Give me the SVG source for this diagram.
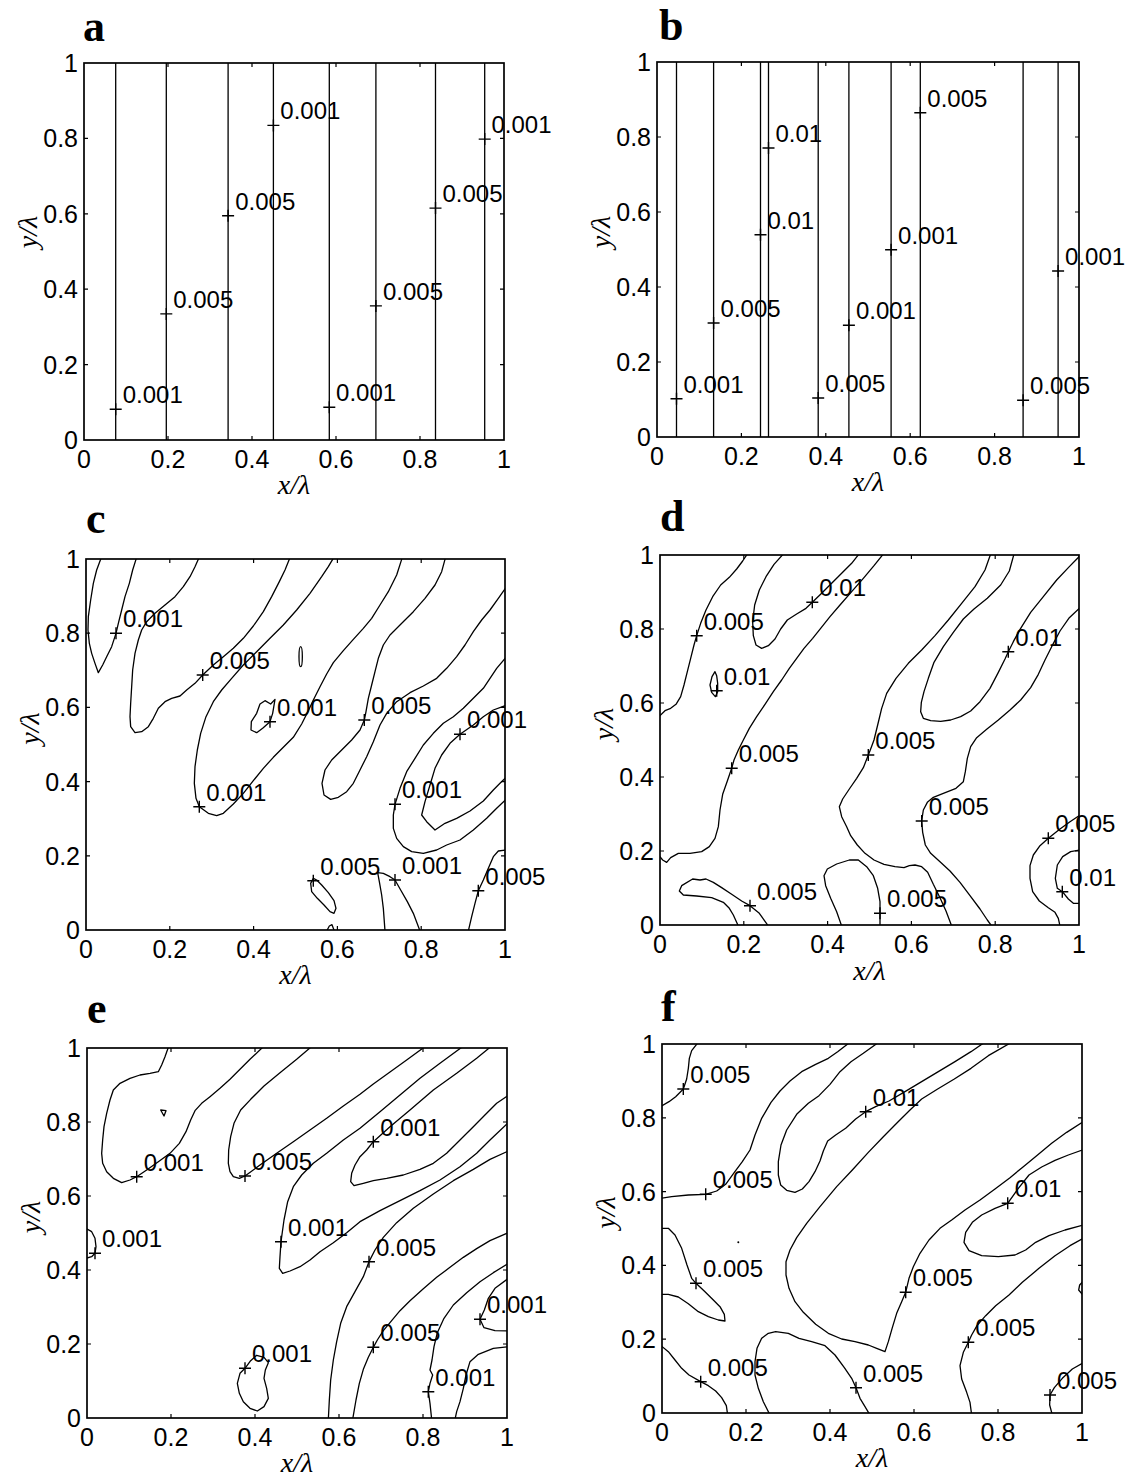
<svg xmlns="http://www.w3.org/2000/svg" xmlns:xlink="http://www.w3.org/1999/xlink" width="1128" height="1479" viewBox="0 0 1128 1479">
<style>
.fr{fill:none;stroke:#000;stroke-width:1.7}
.tk{fill:none;stroke:#000;stroke-width:1.2}
.ln{fill:none;stroke:#000;stroke-width:1.3}
.ct{fill:none;stroke:#000;stroke-width:3.9;stroke-linejoin:round;stroke-linecap:round}
.mk{fill:none;stroke:#000;stroke-width:1.4}
.tx{font-family:'Liberation Sans',Arial,sans-serif;font-size:25px;fill:#000;text-anchor:middle}
.ty{font-family:'Liberation Sans',Arial,sans-serif;font-size:25px;fill:#000;text-anchor:end}
.cl{font-family:'Liberation Sans',Arial,sans-serif;font-size:24px;fill:#000}
.pl{font-family:'Liberation Serif','Times New Roman',serif;font-weight:bold;font-size:44px;fill:#000}
.al{font-family:'Liberation Serif','Times New Roman',serif;font-style:italic;font-size:28px;fill:#000;text-anchor:middle}
</style>
<defs>
<path id="pl" d="M-6,0H6M0,-6V6"/>
<clipPath id="cpc"><rect x="86" y="559" width="419" height="371"/></clipPath>
<clipPath id="cpd"><rect x="660" y="555" width="419" height="370"/></clipPath>
<clipPath id="cpe"><rect x="87" y="1048" width="420" height="370"/></clipPath>
<clipPath id="cpf"><rect x="662" y="1044" width="420" height="369"/></clipPath>
</defs>
<rect width="1128" height="1479" fill="#fff"/>

<!-- Panel a -->
<g id="panel-a">
<text class="pl" x="83" y="41">a</text>
<g class="ln">
<path d="M115.7,63V440M166.3,63V440M228.1,63V440M273.4,63V440M329.3,63V440M375.9,63V440M435.5,63V440M484.7,63V440"/>
</g>
<rect class="fr" x="84" y="63" width="420" height="377"/>
<path class="tk" d="M168,440v-4M252,440v-4M336,440v-4M420,440v-4M168,63v4M252,63v4M336,63v4M420,63v4M84,364.6h4M84,289.2h4M84,213.8h4M84,138.4h4M504,364.6h-4M504,289.2h-4M504,213.8h-4M504,138.4h-4"/>
<g class="mk">
<use xlink:href="#pl" x="115.7" y="409.3"/><use xlink:href="#pl" x="166.3" y="313.9"/><use xlink:href="#pl" x="228.1" y="215.8"/><use xlink:href="#pl" x="273.4" y="125.4"/><use xlink:href="#pl" x="329.3" y="407.3"/><use xlink:href="#pl" x="375.9" y="305.9"/><use xlink:href="#pl" x="435.5" y="208.1"/><use xlink:href="#pl" x="484.7" y="139.1"/>
</g>
<g class="cl">
<text x="122.7" y="403.3">0.001</text><text x="173.2" y="307.9">0.005</text><text x="235.2" y="209.8">0.005</text><text x="280.3" y="119.4">0.001</text><text x="336.1" y="401.3">0.001</text><text x="383" y="299.9">0.005</text><text x="442.5" y="202.1">0.005</text><text x="491.5" y="133.1">0.001</text>
</g>
<g class="ty"><text x="78" y="449">0</text><text x="78" y="373.6">0.2</text><text x="78" y="298.2">0.4</text><text x="78" y="222.8">0.6</text><text x="78" y="147.4">0.8</text><text x="78" y="72">1</text></g>
<g class="tx"><text x="84" y="468">0</text><text x="168" y="468">0.2</text><text x="252" y="468">0.4</text><text x="336" y="468">0.6</text><text x="420" y="468">0.8</text><text x="504" y="468">1</text></g>
<text class="al" x="294" y="494">x/λ</text>
<text class="al" x="37" y="232" transform="rotate(-90 37 232)">y/λ</text>
</g>

<!-- Panel b -->
<g id="panel-b">
<text class="pl" x="659" y="40">b</text>
<g class="ln">
<path d="M676.5,62V437M713.6,62V437M760.5,62V437M768.5,62V437M818.2,62V437M848.9,62V437M891.1,62V437M920.3,62V437M1023.1,62V437M1058.1,62V437"/>
</g>
<rect class="fr" x="657" y="62" width="422" height="375"/>
<path class="tk" d="M741.4,437v-4M825.8,437v-4M910.2,437v-4M994.6,437v-4M741.4,62v4M825.8,62v4M910.2,62v4M994.6,62v4M657,362h4M657,287h4M657,212h4M657,137h4M1079,362h-4M1079,287h-4M1079,212h-4M1079,137h-4"/>
<g class="mk">
<use xlink:href="#pl" x="676.5" y="398.7"/><use xlink:href="#pl" x="713.6" y="323"/><use xlink:href="#pl" x="768.5" y="148"/><use xlink:href="#pl" x="760.5" y="234.7"/><use xlink:href="#pl" x="818.2" y="398"/><use xlink:href="#pl" x="848.9" y="325.3"/><use xlink:href="#pl" x="891.1" y="249.7"/><use xlink:href="#pl" x="920.3" y="112.7"/><use xlink:href="#pl" x="1023.1" y="400.3"/><use xlink:href="#pl" x="1058.1" y="271"/>
</g>
<g class="cl">
<text x="683.5" y="392.7">0.001</text><text x="720.6" y="317">0.005</text><text x="775.5" y="142">0.01</text><text x="767.5" y="228.7">0.01</text><text x="825.2" y="392">0.005</text><text x="855.9" y="319.3">0.001</text><text x="898.1" y="243.7">0.001</text><text x="927.3" y="106.7">0.005</text><text x="1030.1" y="394.3">0.005</text><text x="1065.1" y="265">0.001</text>
</g>
<g class="ty"><text x="651" y="446">0</text><text x="651" y="371">0.2</text><text x="651" y="296">0.4</text><text x="651" y="221">0.6</text><text x="651" y="146">0.8</text><text x="651" y="71">1</text></g>
<g class="tx"><text x="657" y="465">0</text><text x="741.4" y="465">0.2</text><text x="825.8" y="465">0.4</text><text x="910.2" y="465">0.6</text><text x="994.6" y="465">0.8</text><text x="1079" y="465">1</text></g>
<text class="al" x="868" y="491">x/λ</text>
<text class="al" x="610" y="232" transform="rotate(-90 610 232)">y/λ</text>
</g>

<!-- Panel c -->
<g id="panel-c">
<text class="pl" x="86" y="533">c</text>
<g clip-path="url(#cpc)">
<g class="ct" transform="translate(80,550) scale(0.333333)">
<path d="M62,28L50,60L40,100L32,150L25,200L24,240L28,280L35,310L45,340L55,368L68,345L80,320L95,290L108,250L115,220L125,180L135,140L148,100L158,60L168,28"/>
<path d="M355,28L345,50L330,80L310,110L285,140L255,165L225,190L200,215L185,240L175,270L165,310L158,360L155,410L152,460L150,500L152,530L165,548L185,545L205,530L220,505L235,475L255,455L275,445L300,438L320,420L345,400L368,375L400,345L430,320L460,295L490,265L520,228L550,185L575,140L598,95L615,60L628,28"/>
<path d="M758,28L745,50L725,80L690,130L650,180L610,225L570,265L530,305L490,345L455,385L425,420L400,455L378,500L362,550L352,600L345,650L343,700L348,745L358,770L385,790L410,797L430,790L460,762L490,730L520,692L550,655L580,622L610,592L640,562L665,522L685,482L700,450L720,410L740,372L760,338L790,302L820,268L850,235L875,205L900,165L925,125L950,75L965,28"/>
<ellipse cx="662" cy="320" rx="5" ry="30"/>
<path d="M555,452L540,462L530,490L514,515L513,540L530,548L548,535L570,515L578,490L585,448L572,462Z"/>
<path d="M1095,28L1085,65L1065,105L1035,145L1000,185L960,225L930,255L910,285L895,325L885,365L875,405L865,445L858,485L853,510L840,540L815,570L785,600L755,630L735,660L726,700L732,735L752,748L775,742L800,725L820,700L840,660L860,620L880,575L900,525L920,490L950,455L990,428L1030,408L1070,385L1100,355L1130,320L1155,285L1180,245L1205,210L1230,180L1255,145L1278,112"/>
<path d="M1278,322L1250,355L1230,385L1210,415L1180,445L1150,475L1120,500L1090,520L1060,550L1030,585L1005,625L980,665L960,715L945,763L940,795L940,835L950,865L970,890L995,905L1030,910L1070,900L1100,885L1140,870L1180,840L1220,805L1250,775L1278,748"/>
<path d="M1278,466L1240,480L1210,500L1180,525L1140,553L1110,580L1085,615L1065,655L1050,705L1035,755L1025,795L1040,815L1065,840L1095,820L1130,805L1170,783L1210,753L1240,720L1260,700L1278,682"/>
<path d="M1278,900L1255,903L1240,920L1225,955L1210,990L1195,1022L1185,1060L1175,1100L1165,1143"/>
<path d="M915,1143L910,1075L905,1035L898,995L893,968L910,970L930,980L945,990L962,1020L982,1055L1000,1090L1020,1143"/>
<path d="M700,985L692,1000L695,1025L712,1045L732,1065L750,1085L762,1090L768,1075L762,1052L745,1028L725,1005L710,990Z"/>
<path d="M740,1143L748,1128L756,1124L763,1143"/>
</g>
</g>
<rect class="fr" x="86" y="559" width="419" height="371"/>
<path class="tk" d="M169.8,930v-4M253.6,930v-4M337.4,930v-4M421.2,930v-4M169.8,559v4M253.6,559v4M337.4,559v4M421.2,559v4M86,855.8h4M86,781.6h4M86,707.4h4M86,633.2h4M505,855.8h-4M505,781.6h-4M505,707.4h-4M505,633.2h-4"/>
<g class="mk">
<use xlink:href="#pl" x="116" y="633.3"/><use xlink:href="#pl" x="202.7" y="675"/><use xlink:href="#pl" x="270" y="721.7"/><use xlink:href="#pl" x="199.3" y="806.7"/><use xlink:href="#pl" x="364.3" y="720"/><use xlink:href="#pl" x="460" y="734.3"/><use xlink:href="#pl" x="395" y="804.3"/><use xlink:href="#pl" x="313.3" y="880.7"/><use xlink:href="#pl" x="395" y="880"/><use xlink:href="#pl" x="478.3" y="890.7"/>
</g>
<g class="cl">
<text x="123" y="627.3">0.001</text><text x="209.7" y="669">0.005</text><text x="277" y="715.7">0.001</text><text x="206.3" y="800.7">0.001</text><text x="371.3" y="714">0.005</text><text x="467" y="728.3">0.001</text><text x="402" y="798.3">0.001</text><text x="320.3" y="874.7">0.005</text><text x="402" y="874">0.001</text><text x="485.3" y="884.7">0.005</text>
</g>
<g class="ty"><text x="80" y="939">0</text><text x="80" y="864.8">0.2</text><text x="80" y="790.6">0.4</text><text x="80" y="716.4">0.6</text><text x="80" y="642.2">0.8</text><text x="80" y="568">1</text></g>
<g class="tx"><text x="86" y="958">0</text><text x="169.8" y="958">0.2</text><text x="253.6" y="958">0.4</text><text x="337.4" y="958">0.6</text><text x="421.2" y="958">0.8</text><text x="505" y="958">1</text></g>
<text class="al" x="295.5" y="984">x/λ</text>
<text class="al" x="39" y="728.5" transform="rotate(-90 39 728.5)">y/λ</text>
</g>

<!-- Panel d -->
<g id="panel-d">
<text class="pl" x="660" y="531">d</text>
<g clip-path="url(#cpd)">
<g class="ct" transform="translate(650,545) scale(0.333333)">
<path d="M27,515L45,497L62,490L78,478L92,455L102,420L112,380L122,340L132,300L140,272L152,235L168,195L188,155L212,120L238,97L260,72L278,48L292,27"/>
<path d="M400,27L372,58L348,95L328,135L314,180L308,230L310,272L318,300L335,310L355,302L375,282L392,252L412,225L440,207L468,190L487,172L515,145L545,115L575,85L605,55L627,27"/>
<path d="M700,27L672,62L640,100L605,140L570,180L540,215L512,250L488,280L462,310L440,340L418,370L395,405L370,440L345,478L320,515L298,550L280,585L265,615L252,645L245,670L232,708L218,748L210,795L205,845L195,880L178,905L155,920L120,925L85,925L62,938L50,952L38,945L27,932"/>
<path d="M1022,27L1005,75L975,125L935,175L895,225L855,272L815,315L775,355L738,400L710,445L695,490L683,540L672,585L662,612L655,630L640,668L620,700L598,732L578,762L568,785L575,815L590,845L602,872L622,900L645,925L672,945L702,958L735,965L762,968L778,962L795,960L815,965L833,982L850,1018L870,1058L888,1098L905,1143"/>
<path d="M1092,27L1078,78L1052,120L1012,160L972,192L940,222L910,262L880,305L852,352L835,400L822,440L814,472L812,500L820,520L842,527L872,529L902,525L932,515L962,498L990,470L1020,430L1045,382L1065,342L1075,320L1090,290L1112,250L1142,202L1180,155L1220,105L1258,65L1290,32"/>
<path d="M1290,188L1258,218L1230,258L1205,305L1185,345L1165,388L1142,428L1112,465L1080,495L1045,525L1010,553L980,578L962,605L952,640L946,680L940,710L918,730L880,745L850,757L832,772L820,795L815,828L818,862L826,900L842,925L870,950L900,978L930,1012L960,1052L990,1092L1012,1125L1025,1143"/>
<path d="M195,380L186,395L180,420L185,442L196,455L203,440L203,415L200,392Z"/>
<path d="M265,1143L250,1110L238,1090L220,1072L185,1058L140,1053L100,1050L88,1038L95,1022L128,1002L150,1005L168,1002L190,1012L215,1028L245,1048L275,1068L300,1082L328,1105L355,1143"/>
<path d="M575,1143L560,1100L542,1060L527,1022L522,992L532,972L560,957L598,945L625,945L650,965L670,992L683,1030L690,1070L690,1105L690,1143"/>
<path d="M1290,810L1260,830L1230,852L1195,880L1170,902L1150,930L1140,962L1140,1000L1148,1040L1168,1068L1195,1088L1215,1102L1225,1120L1230,1143"/>
<path d="M1290,915L1262,920L1238,935L1222,960L1216,1000L1222,1030L1237,1040L1255,1062L1270,1075L1290,1075"/>
</g>
</g>
<rect class="fr" x="660" y="555" width="419" height="370"/>
<path class="tk" d="M743.8,925v-4M827.6,925v-4M911.4,925v-4M995.2,925v-4M743.8,555v4M827.6,555v4M911.4,555v4M995.2,555v4M660,851h4M660,777h4M660,703h4M660,629h4M1079,851h-4M1079,777h-4M1079,703h-4M1079,629h-4"/>
<g class="mk">
<use xlink:href="#pl" x="696.7" y="635.7"/><use xlink:href="#pl" x="812.3" y="602.3"/><use xlink:href="#pl" x="716.7" y="690.7"/><use xlink:href="#pl" x="1008.3" y="651.7"/><use xlink:href="#pl" x="731.7" y="768.3"/><use xlink:href="#pl" x="868.3" y="755"/><use xlink:href="#pl" x="921.7" y="821"/><use xlink:href="#pl" x="1048.3" y="838.3"/><use xlink:href="#pl" x="1062.3" y="891.7"/><use xlink:href="#pl" x="750" y="905.7"/><use xlink:href="#pl" x="880" y="913.3"/>
</g>
<g class="cl">
<text x="703.7" y="629.7">0.005</text><text x="819.3" y="596.3">0.01</text><text x="723.7" y="684.7">0.01</text><text x="1015.3" y="645.7">0.01</text><text x="738.7" y="762.3">0.005</text><text x="875.3" y="749">0.005</text><text x="928.7" y="815">0.005</text><text x="1055.3" y="832.3">0.005</text><text x="1069.3" y="885.7">0.01</text><text x="757" y="899.7">0.005</text><text x="887" y="907.3">0.005</text>
</g>
<g class="ty"><text x="654" y="934">0</text><text x="654" y="860">0.2</text><text x="654" y="786">0.4</text><text x="654" y="712">0.6</text><text x="654" y="638">0.8</text><text x="654" y="564">1</text></g>
<g class="tx"><text x="660" y="953">0</text><text x="743.8" y="953">0.2</text><text x="827.6" y="953">0.4</text><text x="911.4" y="953">0.6</text><text x="995.2" y="953">0.8</text><text x="1079" y="953">1</text></g>
<text class="al" x="869.5" y="980">x/λ</text>
<text class="al" x="613" y="724" transform="rotate(-90 613 724)">y/λ</text>
</g>

<!-- Panel e -->
<g id="panel-e">
<text class="pl" x="87" y="1023">e</text>
<g clip-path="url(#cpe)">
<g class="ct" transform="translate(80,1040) scale(0.333333)">
<path d="M265,22L255,50L245,75L235,95L210,100L180,105L150,115L120,130L100,150L90,180L80,220L72,260L68,300L65,340L68,370L80,395L100,415L125,428L150,420L170,410L200,390L235,365L270,340L298,310L318,275L332,240L345,212L365,190L390,170L420,145L450,118L480,88L510,58L548,22"/>
<path d="M242,210L258,212L252,228Z"/>
<path d="M692,22L650,58L600,98L552,138L512,178L482,210L462,250L452,290L446,330L445,370L450,395L460,410L478,415L495,408L540,375L590,340L640,305L690,270L740,235L790,198L840,163L880,132L930,96L980,60L1032,22"/>
<path d="M1145,22L1080,70L1020,115L960,165L900,215L840,265L790,300L740,340L700,370L665,405L640,440L623,485L612,540L603,605L600,650L598,685L608,700L630,693L660,680L690,660L720,635L760,608L800,578L840,545L900,512L960,482L1020,452L1080,420L1140,380L1190,340L1230,300L1285,248"/>
<path d="M1230,22L1190,55L1130,100L1060,150L990,210L930,260L880,305L860,330L840,350L825,375L815,400L812,425L822,437L850,430L880,422L920,415L970,405L1020,388L1060,370L1100,340L1140,300L1180,260L1220,220L1250,190L1285,166"/>
<path d="M1285,333L1230,358L1180,388L1120,422L1060,462L1000,505L950,548L910,592L885,630L867,665L850,710L825,755L800,800L782,850L770,905L760,960L752,1020L748,1080L745,1138"/>
<path d="M1285,578L1230,602L1190,626L1150,652L1110,682L1070,712L1030,746L990,782L960,812L935,842L910,872L892,900L880,922L865,952L850,988L838,1030L828,1080L818,1138"/>
<path d="M1285,670L1240,698L1200,725L1160,758L1120,795L1092,835L1072,878L1062,920L1056,960L1050,990L1058,1005L1050,1030L1045,1055L1050,1090L1055,1138"/>
<path d="M1285,920L1240,925L1195,943L1170,965L1158,1005L1150,1045L1140,1085L1130,1115L1125,1138"/>
<path d="M1285,715L1245,745L1225,775L1213,810L1200,838L1212,863L1245,872L1285,873"/>
<path d="M18,565L35,575L45,595L48,620L45,640L35,650L18,655"/>
<path d="M495,985L480,1000L472,1030L478,1060L490,1085L510,1105L532,1113L552,1100L565,1075L560,1045L552,1015L556,990L565,968L552,952L530,946L512,962Z"/>
</g>
</g>
<rect class="fr" x="87" y="1048" width="420" height="370"/>
<path class="tk" d="M171,1418v-4M255,1418v-4M339,1418v-4M423,1418v-4M171,1048v4M255,1048v4M339,1048v4M423,1048v4M87,1344h4M87,1270h4M87,1196h4M87,1122h4M507,1344h-4M507,1270h-4M507,1196h-4M507,1122h-4"/>
<g class="mk">
<use xlink:href="#pl" x="136.7" y="1176.7"/><use xlink:href="#pl" x="245" y="1176"/><use xlink:href="#pl" x="373.3" y="1141.7"/><use xlink:href="#pl" x="281" y="1241.7"/><use xlink:href="#pl" x="95" y="1253.3"/><use xlink:href="#pl" x="369" y="1261.7"/><use xlink:href="#pl" x="480" y="1319.3"/><use xlink:href="#pl" x="373.3" y="1347.3"/><use xlink:href="#pl" x="245" y="1368.3"/><use xlink:href="#pl" x="428.3" y="1391.7"/>
</g>
<g class="cl">
<text x="143.7" y="1170.7">0.001</text><text x="252" y="1170">0.005</text><text x="380.3" y="1135.7">0.001</text><text x="288" y="1235.7">0.001</text><text x="102" y="1247.3">0.001</text><text x="376" y="1255.7">0.005</text><text x="487" y="1313.3">0.001</text><text x="380.3" y="1341.3">0.005</text><text x="252" y="1362.3">0.001</text><text x="435.3" y="1385.7">0.001</text>
</g>
<g class="ty"><text x="81" y="1427">0</text><text x="81" y="1353">0.2</text><text x="81" y="1279">0.4</text><text x="81" y="1205">0.6</text><text x="81" y="1131">0.8</text><text x="81" y="1057">1</text></g>
<g class="tx"><text x="87" y="1446">0</text><text x="171" y="1446">0.2</text><text x="255" y="1446">0.4</text><text x="339" y="1446">0.6</text><text x="423" y="1446">0.8</text><text x="507" y="1446">1</text></g>
<text class="al" x="297" y="1472">x/λ</text>
<text class="al" x="40" y="1217" transform="rotate(-90 40 1217)">y/λ</text>
</g>

<!-- Panel f -->
<g id="panel-f">
<text class="pl" x="661" y="1021">f</text>
<g clip-path="url(#cpf)">
<g class="ct" transform="translate(655,1035) scale(0.333333)">
<path d="M18,214L42,200L62,185L85,162L95,132L100,100L103,70L110,47L128,24"/>
<path d="M18,490L50,485L100,480L152,478L185,468L212,448L238,412L262,380L285,345L300,300L320,250L348,202L375,168L405,138L440,110L482,88L520,70L548,50L582,24"/>
<path d="M668,24L625,55L588,80L555,110L525,148L492,182L460,205L425,238L395,285L378,330L370,380L370,420L377,450L395,466L420,472L442,462L462,440L480,410L495,378L505,348L518,318L542,300L572,280L602,252L632,230L662,215L702,198L750,170L800,140L850,110L900,80L948,50L986,24"/>
<path d="M1066,24L1000,62L948,100L898,132L848,162L800,192L765,225L725,265L685,305L640,352L592,405L545,455L495,515L455,565L425,608L405,645L393,680L393,720L402,760L420,800L445,832L482,868L520,895L560,912L600,920L640,930L665,940L690,950L700,920L712,878L725,835L740,800L752,772L762,730L775,695L795,655L822,615L855,580L890,555L930,525L975,495L1020,462L1065,428L1105,395L1145,362L1190,325L1235,292L1285,260"/>
<path d="M1285,344L1240,360L1200,376L1160,396L1122,420L1090,460L1058,505L1020,520L980,540L952,562L932,592L927,622L942,647L980,662L1030,665L1080,660L1112,645L1142,622L1182,602L1230,585L1285,570"/>
<path d="M1285,610L1245,632L1200,662L1152,700L1102,742L1062,780L1022,812L992,842L966,872L950,900L940,922L925,952L915,992L920,1032L935,1072L945,1102L950,1140"/>
<path d="M1285,738L1274,750L1271,765L1285,782"/>
<path d="M1285,983L1252,1002L1222,1030L1198,1058L1185,1080L1184,1110L1192,1140"/>
<path d="M18,580L40,580L60,600L80,640L96,690L110,730L123,745L150,770L175,795L195,815L208,838L210,858L190,855L160,845L130,830L100,806L70,786L40,778L18,778"/>
<path d="M18,932L40,950L60,975L80,1000L102,1020L137,1040L160,1052L182,1068L200,1088L214,1112L218,1140"/>
<path d="M345,1140L325,1100L310,1060L300,1020L300,980L306,940L320,910L340,895L362,890L400,895L432,910L470,920L510,932L540,960L568,998L590,1030L603,1058L615,1090L630,1115L645,1140"/>
</g>
</g>
<circle cx="738.3" cy="1242.3" r="1" fill="#000"/>
<rect class="fr" x="662" y="1044" width="420" height="369"/>
<path class="tk" d="M746,1413v-4M830,1413v-4M914,1413v-4M998,1413v-4M746,1044v4M830,1044v4M914,1044v4M998,1044v4M662,1339.2h4M662,1265.4h4M662,1191.6h4M662,1117.8h4M1082,1339.2h-4M1082,1265.4h-4M1082,1191.6h-4M1082,1117.8h-4"/>
<g class="mk">
<use xlink:href="#pl" x="683.3" y="1089"/><use xlink:href="#pl" x="865.7" y="1111.7"/><use xlink:href="#pl" x="705.7" y="1194.3"/><use xlink:href="#pl" x="1007.7" y="1203.3"/><use xlink:href="#pl" x="696" y="1283.3"/><use xlink:href="#pl" x="905.7" y="1292.3"/><use xlink:href="#pl" x="968.3" y="1342.3"/><use xlink:href="#pl" x="700.7" y="1381.7"/><use xlink:href="#pl" x="856" y="1387.7"/><use xlink:href="#pl" x="1050" y="1395"/>
</g>
<g class="cl">
<text x="690.3" y="1083">0.005</text><text x="872.7" y="1105.7">0.01</text><text x="712.7" y="1188.3">0.005</text><text x="1014.7" y="1197.3">0.01</text><text x="703" y="1277.3">0.005</text><text x="912.7" y="1286.3">0.005</text><text x="975.3" y="1336.3">0.005</text><text x="707.7" y="1375.7">0.005</text><text x="863" y="1381.7">0.005</text><text x="1057" y="1389">0.005</text>
</g>
<g class="ty"><text x="656" y="1422">0</text><text x="656" y="1348.2">0.2</text><text x="656" y="1274.4">0.4</text><text x="656" y="1200.6">0.6</text><text x="656" y="1126.8">0.8</text><text x="656" y="1053">1</text></g>
<g class="tx"><text x="662" y="1441">0</text><text x="746" y="1441">0.2</text><text x="830" y="1441">0.4</text><text x="914" y="1441">0.6</text><text x="998" y="1441">0.8</text><text x="1082" y="1441">1</text></g>
<text class="al" x="872" y="1467">x/λ</text>
<text class="al" x="615" y="1212.5" transform="rotate(-90 615 1212.5)">y/λ</text>
</g>
</svg>
